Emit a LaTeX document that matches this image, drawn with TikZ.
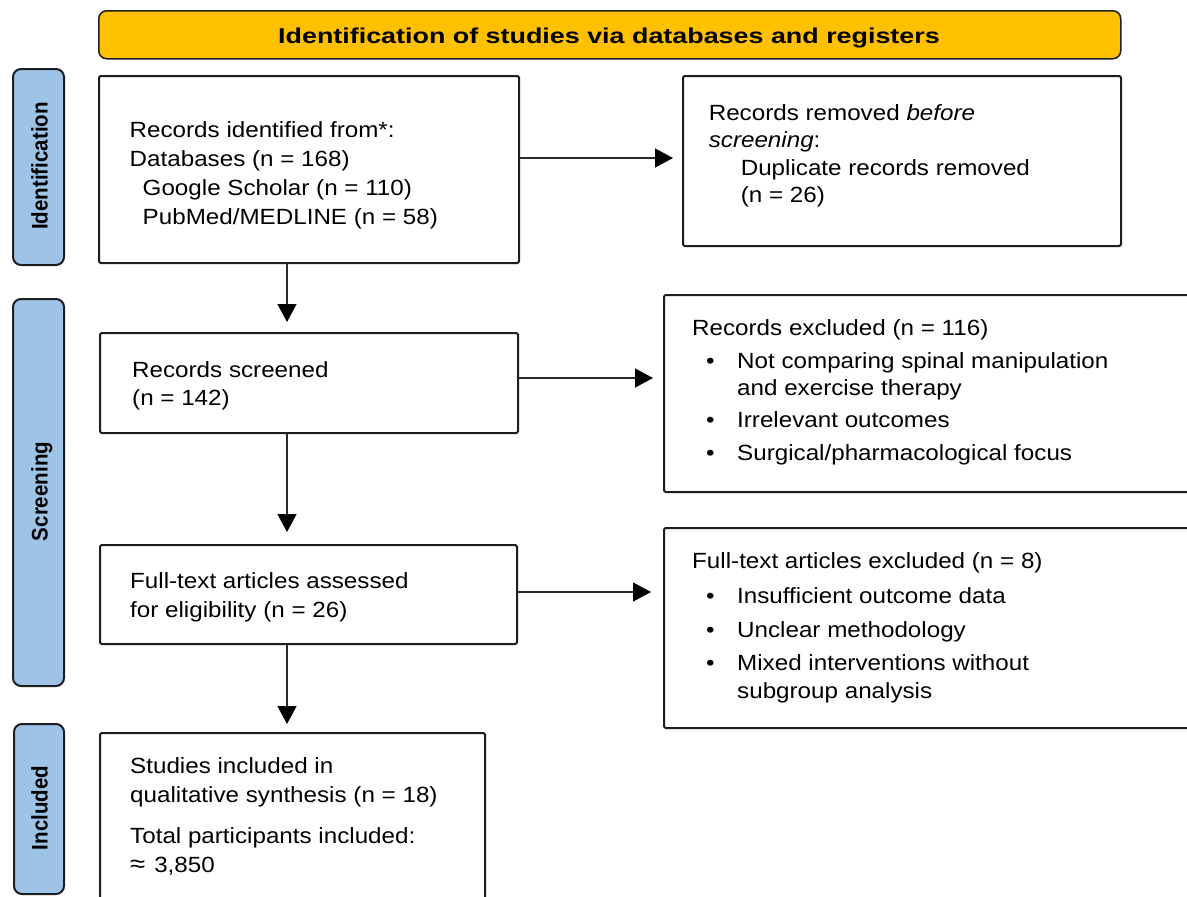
\documentclass[tikz,border=0pt]{standalone}
\usepackage{fontspec}
\usepackage{graphicx}
\setmainfont{Liberation Sans}[FakeStretch=1.1]
\newfontfamily\titlefont{Liberation Sans}[FakeStretch=1.25]
\newfontfamily\sidefont{Liberation Sans}
\usetikzlibrary{arrows.meta}
\definecolor{bannerfill}{HTML}{FFC000}
\definecolor{sidefill}{HTML}{9DC3E6}
\definecolor{edgecol}{HTML}{1E1E1E}
\definecolor{arrcol}{HTML}{2A2A2A}
\newcommand{\bitem}[1]{\hbox{\hbox to 45pt{\hskip 14pt\textbullet\hss}#1}}
\newcommand{\bcont}[1]{\hbox{\hskip 45pt #1}}
\tikzset{
  box/.style={draw=edgecol, line width=2pt, rounded corners=1.5pt, fill=white, anchor=north west, inner sep=0pt},
  sidebox/.style={draw=edgecol, line width=2pt, rounded corners=8pt, fill=sidefill, anchor=north west, inner sep=0pt},
  banner/.style={draw=edgecol, line width=1.5pt, rounded corners=8pt, fill=bannerfill, anchor=north west, inner sep=0pt},
  txt/.style={anchor=base west, inner sep=0pt, font=\fontsize{22}{29}\selectfont},
  sidetxt/.style={anchor=base, inner sep=0pt, rotate=90, font=\sidefont\bfseries\fontsize{20.5}{24}\selectfont},
  titletxt/.style={anchor=base, inner sep=0pt, font=\titlefont\bfseries\fontsize{21.5}{25}\selectfont},
  arr/.style={draw=arrcol, line width=1.3pt, -{Triangle[length=18pt,width=19pt,color=black]}},
}
\begin{document}
\begin{tikzpicture}[x=1pt,y=-1pt]
\useasboundingbox (0,0) rectangle (1187,897);
\clip (0,0) rectangle (1187,897);
\fill[white] (0,0) rectangle (1187,897);

% banner
\node[banner, minimum width=1022pt, minimum height=48pt] (banner) at (98,10) {};
\node[titletxt] (bannert) at (609,43) {Identification of studies via databases and registers};

% side labels
\node[sidebox, minimum width=51pt, minimum height=196pt] (sideid) at (12,68) {};
\node[sidetxt] (sideidt) at (47.5,166) {\scalebox{1}[1.1]{Identification}};
\node[sidebox, minimum width=51pt, minimum height=387pt] (sidescr) at (12,298) {};
\node[sidetxt] (sidescrt) at (47.5,491.5) {\scalebox{1}[1.1]{Screening}};
\node[sidebox, minimum width=50pt, minimum height=170pt] (sideinc) at (13,723) {};
\node[sidetxt] (sideinct) at (47.5,808) {\scalebox{1}[1.1]{Included}};

% boxes
\node[box, minimum width=420pt, minimum height=187pt] (box1) at (98,75) {};
\node[box, minimum width=438pt, minimum height=170pt] (removed) at (682,75) {};
\node[box, minimum width=418pt, minimum height=100pt] (screened) at (99,332) {};
\node[box, minimum width=540pt, minimum height=197pt] (excluded) at (663,294) {};
\node[box, minimum width=417pt, minimum height=99pt] (fulltext) at (99,544) {};
\node[box, minimum width=540pt, minimum height=200pt] (ftexcl) at (663,527) {};
\node[box, minimum width=385pt, minimum height=180pt] (included) at (99,732) {};

% texts
\node[txt] (box1t) at (129.5,137) {\vtop{\baselineskip=29.3pt
  \hbox{Records identified from*:}
  \hbox{Databases (n = 168)}
  \hbox{\kern13pt Google Scholar (n = 110)}
  \hbox{\kern13pt PubMed/MEDLINE (n = 58)}}};
\node[txt] (removedt) at (708.6,120) {\vtop{\baselineskip=27.5pt
  \hbox{Records removed \textit{before}}
  \hbox{\textit{screening}:}
  \hbox{\kern32pt Duplicate records removed}
  \hbox{\kern32pt (n = 26)}}};
\node[txt] (screenedt) at (132,377) {\vtop{\baselineskip=28pt
  \hbox{Records screened}
  \hbox{(n = 142)}}};
\node[txt] (excludedt) at (692,335) {\vtop{\baselineskip=27pt
  \hbox{Records excluded (n = 116)}\vskip6pt
  \bitem{Not comparing spinal manipulation}
  \bcont{and exercise therapy}\vskip5pt
  \bitem{Irrelevant outcomes}\vskip6pt
  \bitem{Surgical/pharmacological focus}}};
\node[txt] (fulltextt) at (130,588) {\vtop{\baselineskip=29pt
  \hbox{Full-text articles assessed}
  \hbox{for eligibility (n = 26)}}};
\node[txt] (ftexclt) at (692,568) {\vtop{\baselineskip=28pt
  \hbox{Full-text articles excluded (n = 8)}\vskip7pt
  \bitem{Insufficient outcome data}\vskip6pt
  \bitem{Unclear methodology}\vskip5pt
  \bitem{Mixed interventions without}
  \bcont{subgroup analysis}}};
\node[txt] (includedt) at (130,773) {\vtop{\baselineskip=29pt
  \hbox{Studies included in}
  \hbox{qualitative synthesis (n = 18)}\vskip12pt
  \hbox{Total participants included:}
  \hbox{{\fontsize{25}{29}\selectfont ≈}\hspace{9pt}3,850}}};

% connectors
\coordinate (vx) at (287,0);
\coordinate (h1) at (0,158);
\coordinate (h2) at (0,378);
\coordinate (h3) at (0,592);
\draw[arr, shorten >=10pt] (box1.south -| vx) -- (screened.north -| vx);
\draw[arr, shorten >=12pt] (screened.south -| vx) -- (fulltext.north -| vx);
\draw[arr, shorten >=8pt] (fulltext.south -| vx) -- (included.north -| vx);
\draw[arr, shorten >=9pt] (box1.east |- h1) -- (removed.west |- h1);
\draw[arr, shorten >=10pt] (screened.east |- h2) -- (excluded.west |- h2);
\draw[arr, shorten >=12pt] (fulltext.east |- h3) -- (ftexcl.west |- h3);
\end{tikzpicture}
\end{document}
